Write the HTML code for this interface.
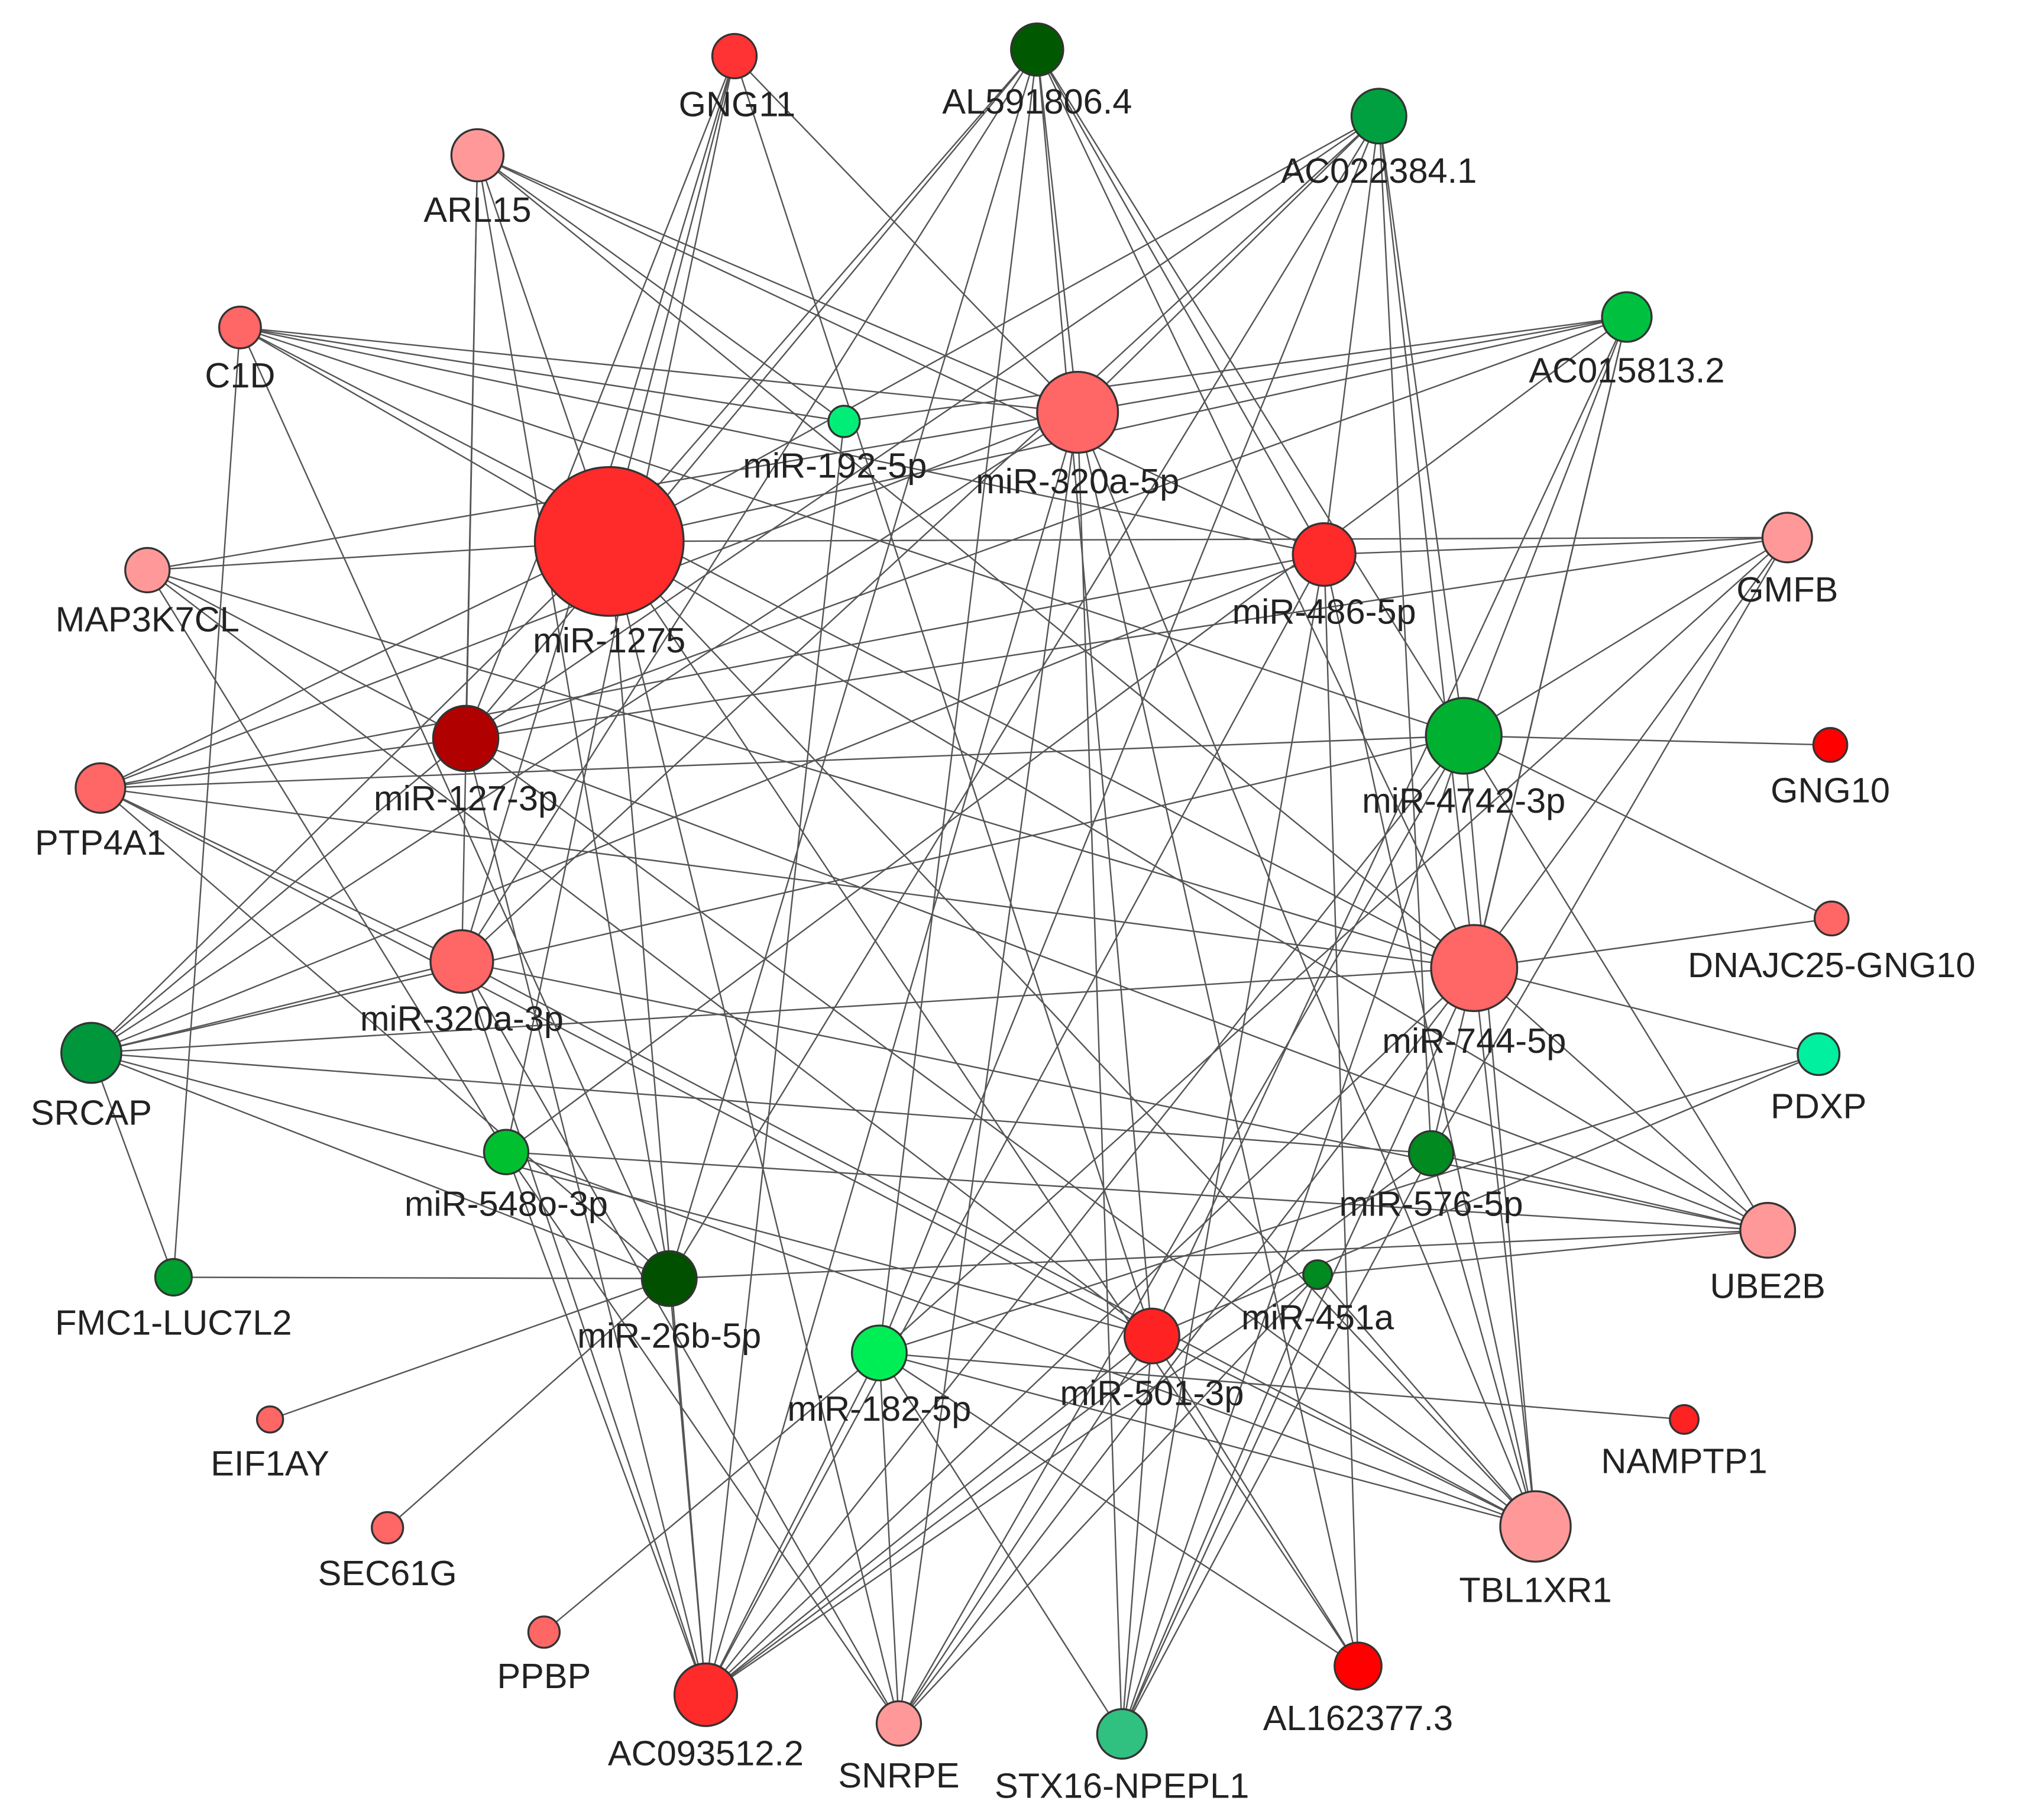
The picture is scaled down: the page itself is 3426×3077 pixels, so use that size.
<!DOCTYPE html>
<html><head><meta charset="utf-8"><style>
html,body{margin:0;padding:0;background:#fff;}
svg{display:block;}
text{font-family:"Liberation Sans",Arial,sans-serif;font-size:27px;fill:#222;text-anchor:middle;}
</style></head><body>
<svg width="3426" height="3077" viewBox="0 0 1553 1395" preserveAspectRatio="none" xmlns="http://www.w3.org/2000/svg">
<rect width="1553" height="1395" fill="#fff"/>
<g stroke="#555" stroke-width="1.1" fill="none">
<!-- miR-1275 467,415 -->
<path d="M467 415L563 43M467 415L795 38M467 415L1057 89M467 415L366 119M467 415L113 437M467 415L77 604M467 415L70 807M467 415L1370 412M467 415L1177 1170M467 415L541 1299M467 415L689 1321M467 415L1355 943M467 415L1247 243M467 415L184 251M467 415L1041 1277"/>
<!-- miR-320a-5p 826,316 -->
<path d="M826 316L366 119M826 316L184 251M826 316L795 38M826 316L1247 243M826 316L113 437M826 316L77 604M826 316L70 807M826 316L541 1299M826 316L689 1321M826 316L860 1329M826 316L1041 1277M826 316L1177 1170M826 316L563 43M826 316L1057 89"/>
<!-- miR-486-5p 1015,425 -->
<path d="M1015 425L795 38M1015 425L1057 89M1015 425L366 119M1015 425L77 604M1015 425L70 807M1015 425L1370 412M1015 425L541 1299M1015 425L860 1329M1015 425L1177 1170M1015 425L1041 1277M1015 425L184 251"/>
<!-- miR-127-3p 357,566 -->
<path d="M357 566L366 119M357 566L563 43M357 566L1057 89M357 566L77 604M357 566L113 437M357 566L70 807M357 566L541 1299M357 566L1370 412M357 566L1177 1170M357 566L1355 943M357 566L1247 243M357 566L795 38"/>
<!-- miR-4742-3p 1122,564 -->
<path d="M1122 564L795 38M1122 564L1057 89M1122 564L1247 243M1122 564L1370 412M1122 564L1403 571M1122 564L1404 704M1122 564L77 604M1122 564L70 807M1122 564L541 1299M1122 564L860 1329M1122 564L1355 943M1122 564L1177 1170M1122 564L184 251M1122 564L689 1321"/>
<!-- miR-744-5p 1130,742 -->
<path d="M1130 742L795 38M1130 742L1057 89M1130 742L1247 243M1130 742L1370 412M1130 742L1404 704M1130 742L1394 808M1130 742L1355 943M1130 742L1177 1170M1130 742L113 437M1130 742L77 604M1130 742L70 807M1130 742L541 1299M1130 742L689 1321M1130 742L366 119M1130 742L184 251M1130 742L860 1329"/>
<!-- miR-320a-3p 354,737 -->
<path d="M354 737L366 119M354 737L77 604M354 737L70 807M354 737L541 1299M354 737L689 1321M354 737L1177 1170M354 737L563 43M354 737L795 38M354 737L1355 943M354 737L1057 89"/>
<!-- miR-548o-3p 388,883 -->
<path d="M388 883L541 1299M388 883L1177 1170M388 883L1355 943M388 883L113 437M388 883L1247 243M388 883L563 43M388 883L689 1321"/>
<!-- miR-576-5p 1097,884 -->
<path d="M1097 884L1057 89M1097 884L1370 412M1097 884L1355 943M1097 884L541 1299M1097 884L860 1329M1097 884L70 807M1097 884L1177 1170M1097 884L1247 243"/>
<!-- miR-26b-5p 513,980 -->
<path d="M513 980L133 979M513 980L207 1088M513 980L297 1171M513 980L541 1299M513 980L366 119M513 980L795 38M513 980L1355 943M513 980L184 251M513 980L77 604M513 980L70 807M513 980L1057 89"/>
<!-- miR-451a 1010,977 -->
<path d="M1010 977L1355 943M1010 977L1177 1170M1010 977L541 1299M1010 977L689 1321M1010 977L860 1329"/>
<!-- miR-182-5p 674,1037 -->
<path d="M674 1037L1177 1170M674 1037L1291 1088M674 1037L689 1321M674 1037L541 1299M674 1037L417 1251M674 1037L795 38M674 1037L860 1329M674 1037L1057 89M674 1037L1370 412M674 1037L1394 808M674 1037L1041 1277"/>
<!-- miR-501-3p 883,1024 -->
<path d="M883 1024L1177 1170M883 1024L860 1329M883 1024L541 1299M883 1024L689 1321M883 1024L1041 1277M883 1024L563 43M883 1024L795 38M883 1024L70 807M883 1024L77 604M883 1024L1394 808M883 1024L113 437M883 1024L1247 243"/>
<!-- miR-192-5p 647,323 -->
<path d="M647 323L184 251M647 323L366 119M647 323L1247 243M647 323L541 1299"/>
<path d="M133 979L70 807M133 979L184 251"/>
</g>
<g stroke="#333" stroke-width="1.5">
<circle cx="563" cy="43" r="17" fill="#ff3333"/>
<circle cx="795" cy="38" r="20" fill="#005800"/>
<circle cx="1057" cy="89" r="21" fill="#00a040"/>
<circle cx="366" cy="119" r="20" fill="#ff9999"/>
<circle cx="184" cy="251" r="16" fill="#ff6666"/>
<circle cx="1247" cy="243" r="19" fill="#00c040"/>
<circle cx="647" cy="323" r="12" fill="#00ee77"/>
<circle cx="826" cy="316" r="31" fill="#ff6666"/>
<circle cx="467" cy="415" r="57" fill="#ff2a2a"/>
<circle cx="113" cy="437" r="17" fill="#ff9999"/>
<circle cx="1015" cy="425" r="24" fill="#ff2a2a"/>
<circle cx="1370" cy="412" r="19" fill="#ff9999"/>
<circle cx="357" cy="566" r="25" fill="#b00000"/>
<circle cx="77" cy="604" r="19" fill="#ff6666"/>
<circle cx="1122" cy="564" r="29" fill="#00b030"/>
<circle cx="1403" cy="571" r="13" fill="#ff0000"/>
<circle cx="1404" cy="704" r="13" fill="#ff6666"/>
<circle cx="1130" cy="742" r="33" fill="#ff6666"/>
<circle cx="354" cy="737" r="24" fill="#ff6666"/>
<circle cx="70" cy="807" r="23" fill="#00963c"/>
<circle cx="1394" cy="808" r="16" fill="#00f0a0"/>
<circle cx="388" cy="883" r="17" fill="#00c030"/>
<circle cx="1097" cy="884" r="17" fill="#008a20"/>
<circle cx="1355" cy="943" r="21" fill="#ff9999"/>
<circle cx="133" cy="979" r="14" fill="#00a030"/>
<circle cx="513" cy="980" r="21" fill="#005000"/>
<circle cx="1010" cy="977" r="11" fill="#008a20"/>
<circle cx="674" cy="1037" r="21" fill="#00ee55"/>
<circle cx="883" cy="1024" r="21" fill="#ff2222"/>
<circle cx="207" cy="1088" r="10" fill="#ff6666"/>
<circle cx="1291" cy="1088" r="11" fill="#ff2222"/>
<circle cx="297" cy="1171" r="12" fill="#ff6666"/>
<circle cx="1177" cy="1170" r="27" fill="#ff9999"/>
<circle cx="417" cy="1251" r="12" fill="#ff6666"/>
<circle cx="1041" cy="1277" r="18" fill="#ff0000"/>
<circle cx="541" cy="1299" r="24" fill="#ff2a2a"/>
<circle cx="689" cy="1321" r="17" fill="#ff9999"/>
<circle cx="860" cy="1329" r="19" fill="#30c080"/>
</g>
<g>
<text x="565" y="89">GNG11</text>
<text x="795" y="87">AL591806.4</text>
<text x="1057" y="140">AC022384.1</text>
<text x="366" y="170">ARL15</text>
<text x="184" y="297">C1D</text>
<text x="1247" y="293">AC015813.2</text>
<text x="640" y="366">miR-192-5p</text>
<text x="826" y="378">miR-320a-5p</text>
<text x="467" y="500">miR-1275</text>
<text x="113" y="484">MAP3K7CL</text>
<text x="1015" y="478">miR-486-5p</text>
<text x="1370" y="461">GMFB</text>
<text x="357" y="621">miR-127-3p</text>
<text x="77" y="655">PTP4A1</text>
<text x="1122" y="623">miR-4742-3p</text>
<text x="1403" y="615">GNG10</text>
<text x="1404" y="749">DNAJC25-GNG10</text>
<text x="1130" y="807">miR-744-5p</text>
<text x="354" y="790">miR-320a-3p</text>
<text x="70" y="862">SRCAP</text>
<text x="1394" y="857">PDXP</text>
<text x="388" y="932">miR-548o-3p</text>
<text x="1097" y="932">miR-576-5p</text>
<text x="1355" y="995">UBE2B</text>
<text x="133" y="1023">FMC1-LUC7L2</text>
<text x="513" y="1033">miR-26b-5p</text>
<text x="1010" y="1019">miR-451a</text>
<text x="674" y="1089">miR-182-5p</text>
<text x="883" y="1077">miR-501-3p</text>
<text x="207" y="1131">EIF1AY</text>
<text x="1291" y="1129">NAMPTP1</text>
<text x="297" y="1215">SEC61G</text>
<text x="1177" y="1228">TBL1XR1</text>
<text x="417" y="1294">PPBP</text>
<text x="1041" y="1326">AL162377.3</text>
<text x="541" y="1353">AC093512.2</text>
<text x="689" y="1370">SNRPE</text>
<text x="860" y="1378">STX16-NPEPL1</text>
</g>
</svg>
</body></html>
